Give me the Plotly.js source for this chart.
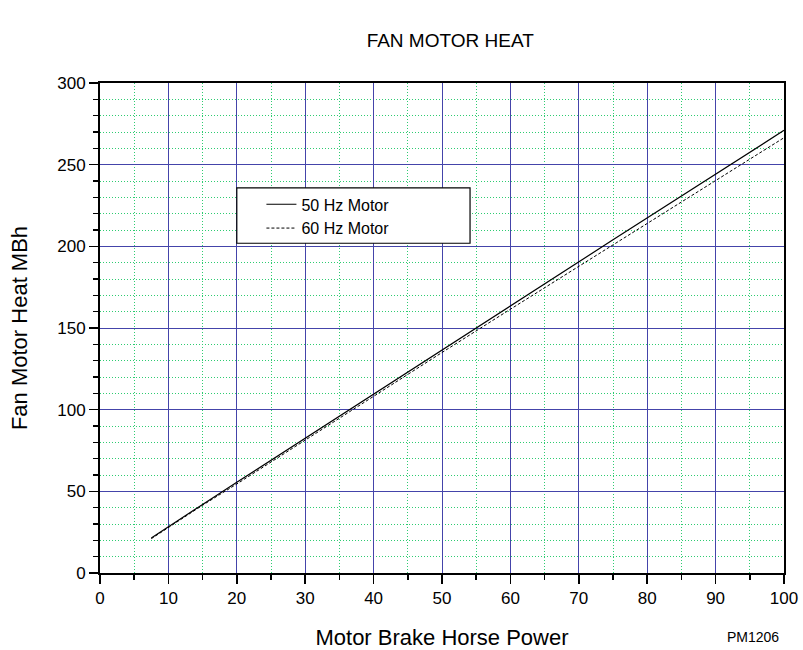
<!DOCTYPE html>
<html><head><meta charset="utf-8">
<script src="https://cdn.plot.ly/plotly-3.0.1.min.js"></script>
<style>body{margin:0;background:#fff}</style>
</head><body>
<div id="chart" style="width:803px;height:650px"></div>
<script>
const bhp = [7.5, 10, 15, 20, 25, 30, 40, 50, 60, 75, 100];
const heat50 = [21.5, 28.5, 42, 55.5, 69, 83, 110, 137, 164, 204, 271];
const heat60 = [21, 28, 41.5, 54.5, 68, 81.5, 108, 135, 161.5, 201, 266.5];
const seriesNames = ['50 Hz Motor', '60 Hz Motor'];

const traces = [
  {x: bhp, y: heat50, name: seriesNames[0], mode: 'lines', line: {color: '#000', width: 1.2}},
  {x: bhp, y: heat60, name: seriesNames[1], mode: 'lines', line: {color: '#000', width: 1, dash: '3px,2px'}}
];
const font = {family: 'Liberation Sans, Arial, sans-serif', color: '#000'};
const layout = {
  width: 803, height: 650,
  margin: {l: 100, r: 19, t: 83, b: 77},
  paper_bgcolor: '#fff', plot_bgcolor: '#fff',
  font: font,
  title: {text: 'FAN MOTOR HEAT', font: {size: 19, family: font.family}, xref: 'paper', x: 0.512, xanchor: 'center', y: 0.938, yanchor: 'middle'},
  showlegend: true,
  legend: {x: 0.236, y: 0.787, xanchor: 'left', yanchor: 'top', bgcolor: 'rgba(0,0,0,0)', borderwidth: 0,
           font: {size: 16}},
  xaxis: {
    range: [0, 100], dtick: 10, tick0: 0, ticks: 'outside', ticklen: 9, tickwidth: 1.5, tickcolor: '#000',
    showline: true, linecolor: '#000', linewidth: 2, mirror: true,
    showgrid: true, gridcolor: '#4444aa', gridwidth: 1, zeroline: false,
    tickfont: {size: 17},
    minor: {dtick: 5, ticks: 'outside', ticklen: 5, tickcolor: '#000', showgrid: true, gridcolor: '#2ecc71', griddash: '1px,2px', gridwidth: 1},
    title: {text: 'Motor Brake Horse Power', font: {size: 22}, standoff: 22}
  },
  yaxis: {
    range: [0, 300], dtick: 50, tick0: 0, ticks: 'outside', ticklen: 9, tickwidth: 1.5, tickcolor: '#000',
    showline: true, linecolor: '#000', linewidth: 2, mirror: true,
    showgrid: true, gridcolor: '#4444aa', gridwidth: 1, zeroline: false,
    tickfont: {size: 17},
    minor: {dtick: 10, ticks: 'outside', ticklen: 5, tickcolor: '#000', showgrid: true, gridcolor: '#2ecc71', griddash: '1px,2px', gridwidth: 1},
    title: {text: 'Fan Motor Heat MBh', font: {size: 22}, standoff: 24}
  },
  shapes: [
    {type: 'rect', xref: 'paper', yref: 'paper', x0: 0.2, x1: 0.541, y0: 0.673, y1: 0.786,
     line: {color: '#000', width: 1.2}, fillcolor: '#fff', layer: 'above'}
  ],
  annotations: [
    {text: 'PM1206', xref: 'paper', yref: 'paper', x: 0.955, y: -0.131, xanchor: 'center', yanchor: 'middle', showarrow: false, font: {size: 14}}
  ]
};
Plotly.newPlot('chart', traces, layout, {displayModeBar: false, staticPlot: true});
</script>
</body></html>
